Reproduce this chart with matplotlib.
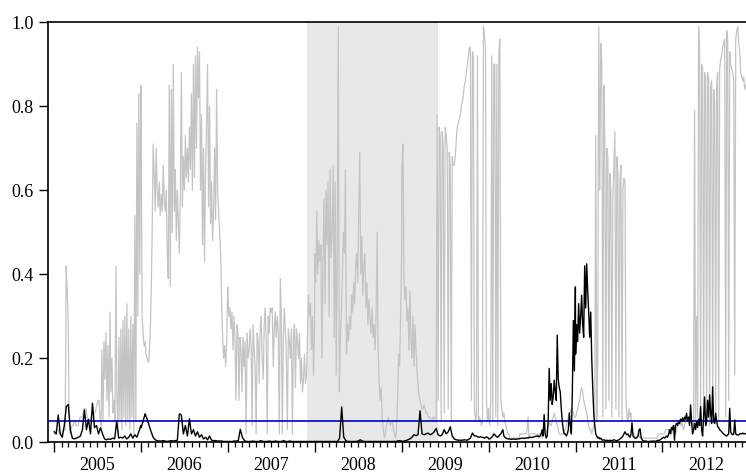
import numpy as np
import pandas as pd
import matplotlib
matplotlib.use("Agg")
import matplotlib.pyplot as plt
import matplotlib.dates as mdates
from datetime import datetime

# grey series (rolling p-value)
gray_2005 = [0.02, 0.02, 0.03, 0.03, 0.03, 0.02, 0.02, 0.02, 0.02, 0.03,
             0.03, 0.03, 0.42, 0.36, 0.29, 0.05, 0.02, 0.03, 0.04, 0.04,
             0.05, 0.05, 0.04, 0.04, 0.04, 0.05, 0.06, 0.06, 0.06, 0.07,
             0.08, 0.08, 0.08, 0.06, 0.05, 0.05, 0.05, 0.06, 0.07, 0.07,
             0.07, 0.07, 0.08, 0.09, 0.10, 0.10, 0.06, 0.04, 0.22, 0.05,
             0.24, 0.15, 0.26, 0.10, 0.23, 0.06, 0.31, 0.12, 0.20, 0.07,
             0.10, 0.05, 0.42, 0.10, 0.02, 0.25, 0.05, 0.27, 0.03, 0.29,
             0.06, 0.30, 0.04, 0.33, 0.05, 0.27, 0.03, 0.30, 0.06, 0.28,
             0.02, 0.54, 0.05, 0.76, 0.30, 0.83, 0.40, 0.85]
gray_2006 = [0.84, 0.30, 0.26, 0.23, 0.24, 0.21, 0.20, 0.19, 0.20, 0.26,
             0.35, 0.50, 0.71, 0.64, 0.55, 0.70, 0.60, 0.56, 0.62, 0.54,
             0.59, 0.55, 0.66, 0.57, 0.55, 0.60, 0.45, 0.39, 0.85, 0.37,
             0.84, 0.50, 0.90, 0.55, 0.65, 0.48, 0.60, 0.52, 0.45, 0.60,
             0.88, 0.56, 0.68, 0.60, 0.73, 0.63, 0.70, 0.62, 0.75, 0.65,
             0.83, 0.60, 0.90, 0.63, 0.92, 0.70, 0.94, 0.82, 0.93, 0.60,
             0.78, 0.47, 0.70, 0.43, 0.65, 0.76, 0.90, 0.56, 0.80, 0.52,
             0.62, 0.48, 0.55, 0.70, 0.53, 0.84, 0.60, 0.55, 0.50, 0.45,
             0.33, 0.25, 0.20, 0.23, 0.18, 0.24, 0.37]
gray_2007 = [0.35, 0.30, 0.32, 0.27, 0.31, 0.22, 0.30, 0.25, 0.10, 0.28,
             0.26, 0.10, 0.25, 0.22, 0.12, 0.25, 0.18, 0.24, 0.02, 0.26,
             0.20, 0.22, 0.27, 0.23, 0.04, 0.28, 0.22, 0.18, 0.02, 0.26,
             0.24, 0.14, 0.27, 0.30, 0.20, 0.15, 0.28, 0.32, 0.24, 0.02,
             0.30, 0.26, 0.32, 0.31, 0.32, 0.18, 0.27, 0.31, 0.25, 0.30,
             0.26, 0.02, 0.39, 0.30, 0.02, 0.25, 0.32, 0.27, 0.20, 0.03,
             0.27, 0.24, 0.20, 0.27, 0.02, 0.25, 0.28, 0.13, 0.27, 0.24,
             0.20, 0.26, 0.14, 0.20, 0.12, 0.15, 0.21, 0.14, 0.16, 0.26,
             0.35, 0.30, 0.33, 0.22, 0.30, 0.16, 0.28]
gray_2008 = [0.45, 0.38, 0.55, 0.40, 0.48, 0.43, 0.47, 0.20, 0.43, 0.58,
             0.33, 0.60, 0.47, 0.62, 0.30, 0.65, 0.44, 0.50, 0.66, 0.25,
             0.62, 0.16, 0.45, 0.99, 0.12, 0.25, 0.31, 0.40, 0.50, 0.45,
             0.65, 0.21, 0.28, 0.24, 0.30, 0.27, 0.35, 0.31, 0.38, 0.33,
             0.42, 0.45, 0.38, 0.55, 0.69, 0.40, 0.49, 0.35, 0.42, 0.45,
             0.32, 0.38, 0.28, 0.34, 0.30, 0.26, 0.32, 0.25, 0.28, 0.22,
             0.30, 0.50, 0.22, 0.14, 0.10, 0.13, 0.06, 0.03, 0.01, 0.02,
             0.04, 0.05, 0.06, 0.05, 0.04, 0.05, 0.05, 0.03, 0.02, 0.01,
             0.03, 0.10, 0.21, 0.18, 0.30, 0.45]
gray_2009 = [0.65, 0.71, 0.40, 0.34, 0.37, 0.29, 0.32, 0.22, 0.36, 0.25,
             0.20, 0.30, 0.18, 0.28, 0.22, 0.17, 0.14, 0.11, 0.10, 0.09,
             0.08, 0.08, 0.09, 0.08, 0.07, 0.07, 0.06, 0.06, 0.06, 0.05,
             0.05, 0.06, 0.06, 0.05, 0.05, 0.78, 0.10, 0.75, 0.73, 0.05,
             0.74, 0.71, 0.07, 0.75, 0.73, 0.70, 0.08, 0.69, 0.66, 0.05,
             0.68, 0.66, 0.66, 0.68, 0.72, 0.75, 0.76, 0.77, 0.78, 0.80,
             0.81, 0.83, 0.85, 0.86, 0.88, 0.90, 0.92, 0.94, 0.94, 0.10,
             0.93, 0.92, 0.08, 0.05, 0.06, 0.92, 0.05, 0.06, 0.05, 0.04,
             0.05, 0.99, 0.97, 0.94, 0.10, 0.05, 0.08]
gray_2010 = [0.06, 0.04, 0.10, 0.92, 0.05, 0.90, 0.90, 0.06, 0.90, 0.04,
             0.93, 0.96, 0.10, 0.08, 0.06, 0.07, 0.05, 0.04, 0.03, 0.02,
             0.02, 0.01, 0.01, 0.01, 0.01, 0.01, 0.01, 0.01, 0.01, 0.01,
             0.01, 0.02, 0.02, 0.02, 0.02, 0.02, 0.02, 0.02, 0.03, 0.06,
             0.01, 0.02, 0.02, 0.02, 0.02, 0.02, 0.02, 0.02, 0.02, 0.01,
             0.02, 0.02, 0.02, 0.01, 0.02, 0.03, 0.02, 0.02, 0.03, 0.04,
             0.05, 0.04, 0.04, 0.05, 0.06, 0.07, 0.06, 0.05, 0.04, 0.03,
             0.02, 0.02, 0.02, 0.02, 0.02, 0.03, 0.03, 0.04, 0.05, 0.06,
             0.07, 0.07, 0.08, 0.08, 0.07, 0.06, 0.06]
gray_2011 = [0.06, 0.07, 0.08, 0.09, 0.10, 0.12, 0.13, 0.12, 0.10, 0.09,
             0.08, 0.07, 0.05, 0.04, 0.03, 0.03, 0.02, 0.03, 0.04, 0.05,
             0.73, 0.05, 0.20, 0.99, 0.60, 0.95, 0.90, 0.06, 0.85, 0.72,
             0.08, 0.70, 0.68, 0.10, 0.64, 0.60, 0.06, 0.58, 0.66, 0.74,
             0.08, 0.68, 0.64, 0.06, 0.62, 0.66, 0.05, 0.60, 0.63, 0.62,
             0.10, 0.06, 0.05, 0.08, 0.06, 0.07, 0.03, 0.02, 0.02, 0.01,
             0.01, 0.01, 0.02, 0.02, 0.01, 0.01, 0.01, 0.01, 0.01, 0.01,
             0.01, 0.01, 0.01, 0.01, 0.01, 0.01, 0.01, 0.01, 0.01, 0.01,
             0.01, 0.01, 0.02, 0.02, 0.02, 0.02, 0.02]
gray_2012 = [0.02, 0.02, 0.02, 0.03, 0.03, 0.03, 0.03, 0.03, 0.03, 0.02,
             0.03, 0.04, 0.03, 0.02, 0.03, 0.04, 0.04, 0.05, 0.04, 0.05,
             0.04, 0.03, 0.04, 0.05, 0.05, 0.06, 0.05, 0.05, 0.06, 0.05,
             0.04, 0.04, 0.79, 0.05, 0.30, 0.06, 0.99, 0.93, 0.05, 0.90,
             0.89, 0.06, 0.88, 0.87, 0.05, 0.88, 0.86, 0.04, 0.85, 0.86,
             0.06, 0.84, 0.81, 0.07, 0.85, 0.88, 0.05, 0.89, 0.91, 0.92,
             0.94, 0.95, 0.96, 0.06, 0.98, 0.96, 0.10, 0.93, 0.90, 0.89,
             0.88, 0.86, 0.16, 0.96, 0.98, 0.99, 0.95, 0.93, 0.88, 0.87,
             0.86, 0.87, 0.84, 0.85]

# black series
black_2005 = [0.025, 0.02, 0.065, 0.02, 0.012, 0.04, 0.085, 0.09, 0.03, 0.01,
              0.008, 0.01, 0.012, 0.015, 0.03, 0.077, 0.03, 0.055, 0.02, 0.093,
              0.035, 0.04, 0.02, 0.035, 0.02, 0.008, 0.006, 0.008, 0.007, 0.01,
              0.008, 0.05, 0.01, 0.012, 0.01, 0.015, 0.008, 0.012, 0.02, 0.01,
              0.018, 0.012, 0.025, 0.04]
black_2006 = [0.035, 0.05, 0.068, 0.055, 0.04, 0.025, 0.012, 0.006, 0.004, 0.003,
              0.003, 0.004, 0.003, 0.002, 0.003, 0.004, 0.003, 0.004, 0.005, 0.068,
              0.065, 0.02, 0.04, 0.015, 0.056, 0.02, 0.03, 0.015, 0.025, 0.012,
              0.018, 0.008, 0.012, 0.006, 0.015, 0.005, 0.004, 0.004, 0.003, 0.003,
              0.003, 0.002, 0.002, 0.002]
black_2007 = [0.002, 0.002, 0.002, 0.003, 0.003, 0.004, 0.031, 0.012, 0.004, 0.002,
              0.002, 0.002, 0.003, 0.002, 0.002, 0.002, 0.004, 0.002, 0.002, 0.002,
              0.003, 0.002, 0.002, 0.003, 0.002, 0.002, 0.002, 0.004, 0.002, 0.002,
              0.003, 0.002, 0.002, 0.002, 0.002, 0.002, 0.002, 0.002, 0.002, 0.002,
              0.002, 0.002, 0.002]
black_2008 = [0.002, 0.002, 0.002, 0.002, 0.002, 0.002, 0.002, 0.002, 0.002, 0.002,
              0.002, 0.002, 0.01, 0.084, 0.012, 0.004, 0.002, 0.002, 0.002, 0.002,
              0.002, 0.003, 0.006, 0.003, 0.002, 0.002, 0.002, 0.002, 0.002, 0.002,
              0.002, 0.002, 0.002, 0.002, 0.002, 0.002, 0.002, 0.002, 0.002, 0.002,
              0.003, 0.004, 0.003]
black_2009 = [0.002, 0.003, 0.004, 0.006, 0.008, 0.012, 0.018, 0.016, 0.018, 0.075,
              0.02, 0.018, 0.02, 0.022, 0.018, 0.02, 0.025, 0.033, 0.018, 0.015,
              0.018, 0.03, 0.02, 0.025, 0.037, 0.015, 0.008, 0.006, 0.005, 0.005,
              0.005, 0.006, 0.005, 0.006, 0.01, 0.022, 0.015, 0.015, 0.012, 0.013,
              0.012, 0.01, 0.013, 0.01]
black_2010 = [0.008, 0.008, 0.01, 0.012, 0.015, 0.02, 0.018, 0.015, 0.013, 0.012,
              0.015, 0.018, 0.02, 0.025, 0.03, 0.015, 0.012, 0.01, 0.009, 0.008,
              0.008, 0.008, 0.007, 0.007, 0.008, 0.008, 0.007, 0.007, 0.008, 0.008,
              0.008, 0.009, 0.009, 0.01, 0.01, 0.009, 0.01, 0.01, 0.011, 0.01,
              0.012, 0.012, 0.011, 0.012, 0.012, 0.013, 0.014, 0.014, 0.015, 0.015,
              0.013, 0.015, 0.02, 0.03, 0.015, 0.066, 0.02, 0.01, 0.015, 0.05,
              0.176, 0.10, 0.14, 0.09, 0.108, 0.148, 0.12, 0.10, 0.255, 0.15,
              0.13, 0.12, 0.08, 0.05, 0.03, 0.02, 0.02, 0.015, 0.02, 0.03,
              0.07, 0.04, 0.02, 0.12, 0.29, 0.17, 0.37]
black_2011 = [0.21, 0.28, 0.24, 0.33, 0.26, 0.30, 0.35, 0.28, 0.25, 0.42,
              0.32, 0.425, 0.36, 0.31, 0.25, 0.31, 0.20, 0.13, 0.07, 0.04,
              0.02, 0.015, 0.01, 0.012, 0.008, 0.01, 0.006, 0.005, 0.006, 0.005,
              0.004, 0.005, 0.004, 0.004, 0.005, 0.004, 0.004, 0.005, 0.006, 0.005,
              0.004, 0.004, 0.005, 0.006, 0.008, 0.01, 0.012, 0.015, 0.02, 0.025,
              0.02, 0.018, 0.02, 0.015, 0.012, 0.02, 0.046, 0.015, 0.012, 0.01,
              0.01, 0.012, 0.015, 0.03, 0.032, 0.012, 0.006, 0.004, 0.003, 0.003,
              0.003, 0.002, 0.002, 0.002, 0.002, 0.003, 0.002, 0.003, 0.003, 0.002,
              0.003, 0.004, 0.005, 0.004, 0.006, 0.008, 0.01]
black_2012 = [0.01, 0.012, 0.01, 0.012, 0.015, 0.012, 0.018, 0.03, 0.02, 0.035,
              0.03, 0.04, 0.005, 0.04, 0.045, 0.04, 0.05, 0.045, 0.055, 0.05,
              0.058, 0.05, 0.06, 0.055, 0.069, 0.05, 0.06, 0.04, 0.089, 0.05,
              0.02, 0.03, 0.045, 0.03, 0.05, 0.035, 0.055, 0.04, 0.085, 0.03,
              0.015, 0.06, 0.108, 0.04, 0.05, 0.10, 0.06, 0.113, 0.07, 0.045,
              0.132, 0.05, 0.045, 0.069, 0.05, 0.037, 0.035, 0.03, 0.028, 0.025,
              0.022, 0.02, 0.018, 0.016, 0.015, 0.018, 0.02, 0.081, 0.025, 0.02,
              0.018, 0.02, 0.053, 0.02, 0.018, 0.017, 0.018, 0.02, 0.021, 0.02,
              0.022, 0.02, 0.021, 0.02]

years = [2005, 2006, 2007, 2008, 2009, 2010, 2011, 2012]
gray_parts = [gray_2005, gray_2006, gray_2007, gray_2008,
              gray_2009, gray_2010, gray_2011, gray_2012]
black_parts = [black_2005, black_2006, black_2007, black_2008,
               black_2009, black_2010, black_2011, black_2012]
last_date = "2012-12-16"
threshold = 0.05
recession = ("2007-12-01", "2009-06-01")


def series(parts):
    dates = []
    vals = []
    for yr, v in zip(years, parts):
        end = last_date if yr == years[-1] else "%d-12-31" % yr
        dates.extend(pd.date_range("%d-01-01" % yr, end, periods=len(v)))
        vals.extend(v)
    return pd.Series(vals, index=pd.DatetimeIndex(dates))


gray = series(gray_parts)
black = series(black_parts)

plt.rcParams['font.family'] = ['Liberation Serif', 'DejaVu Serif']

fig = plt.figure(figsize=(7.46, 4.76), dpi=100)
ax = fig.add_axes([0.0647, 0.0708, 0.9353, 0.8824])

ax.axvspan(pd.Timestamp(recession[0]), pd.Timestamp(recession[1]),
           color='#e8e8e8', lw=0, zorder=0)
ax.plot(gray.index, gray.values, color='#c4c4c4', lw=0.9, zorder=2)
ax.axhline(threshold, color='#0000c8', lw=1.2, zorder=3)
ax.plot(black.index, black.values, color='black', lw=1.0, zorder=4)

ax.set_xlim(pd.Timestamp("2004-12-07"), pd.Timestamp("2012-12-17"))
ax.set_ylim(0, 1.0)
ax.set_yticks(np.arange(0, 1.01, 0.2))
ax.set_yticklabels(["%.1f" % v for v in np.arange(0, 1.01, 0.2)])

ax.xaxis.set_major_locator(mdates.YearLocator())
ax.xaxis.set_minor_locator(mdates.MonthLocator())
ax.xaxis.set_major_formatter(plt.NullFormatter())
ax.tick_params(axis='x', which='major', direction='out', length=7, width=1.0)
ax.tick_params(axis='x', which='minor', direction='out', length=3.5, width=0.9)
ax.tick_params(axis='y', direction='out', length=6.5, width=1.0, pad=4,
               labelsize=13)

for yr in years:
    ax.annotate(str(yr), xy=(datetime(yr, 7, 2), 0), xycoords=('data', 'axes fraction'),
                xytext=(0, -17), textcoords='offset points',
                ha='center', va='center', fontsize=13)

ax.spines['right'].set_visible(False)
for s in ['left', 'bottom', 'top']:
    ax.spines[s].set_linewidth(1.2)

fig.savefig("out.png", dpi=100)
